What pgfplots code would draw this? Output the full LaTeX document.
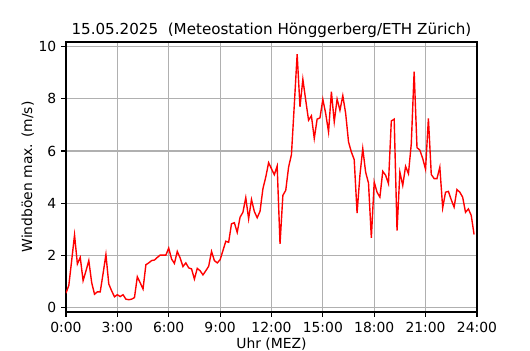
\documentclass[border=0pt]{standalone}
\usepackage{fontspec}
\setmainfont{DejaVu Sans}
\usepackage{pgfplots}
\pgfplotsset{compat=1.18}
\usepackage{pgfplotstable}
\pgfplotstableread{
i v
0 0.55
1 0.85
2 1.8
3 2.78
4 1.67
5 1.92
6 1.03
7 1.4
8 1.8
9 0.96
10 0.51
11 0.6
12 0.6
13 1.3
14 2.03
15 0.9
16 0.64
17 0.41
18 0.49
19 0.42
20 0.49
21 0.32
22 0.30
23 0.32
24 0.38
25 1.18
26 0.95
27 0.71
28 1.64
29 1.71
30 1.8
31 1.82
32 1.92
33 2.01
34 2.01
35 2.01
36 2.28
37 1.86
38 1.69
39 2.15
40 1.9
41 1.57
42 1.71
43 1.52
44 1.48
45 1.09
46 1.5
47 1.41
48 1.25
49 1.41
50 1.58
51 2.15
52 1.8
53 1.71
54 1.83
55 2.18
56 2.54
57 2.5
58 3.21
59 3.25
60 2.88
61 3.46
62 3.65
63 4.21
64 3.4
65 4.14
66 3.68
67 3.44
68 3.69
69 4.55
70 5.0
71 5.55
72 5.32
73 5.09
74 5.42
75 2.44
76 4.3
77 4.49
78 5.38
79 5.86
80 7.76
81 9.71
82 7.69
83 8.75
84 7.95
85 7.18
86 7.35
87 6.48
88 7.22
89 7.27
90 7.98
91 7.44
92 6.73
93 8.27
94 7.12
95 7.99
96 7.56
97 8.12
98 7.44
99 6.35
100 5.96
101 5.67
102 3.62
103 5.07
104 6.09
105 5.19
106 4.77
107 2.67
108 4.81
109 4.42
110 4.23
111 5.22
112 5.07
113 4.75
114 7.15
115 7.22
116 2.95
117 5.19
118 4.68
119 5.41
120 5.13
121 6.28
122 9.04
123 6.13
124 6.03
125 5.71
126 5.3
127 7.25
128 5.1
129 4.94
130 4.94
131 5.38
132 3.82
133 4.42
134 4.45
135 4.13
136 3.85
137 4.52
138 4.42
139 4.23
140 3.65
141 3.78
142 3.53
143 2.8
}\gust
\definecolor{gridgray}{RGB}{176,176,176}
\begin{document}
\begin{tikzpicture}
\useasboundingbox (-47.5pt,-27.4pt) rectangle (334.1pt,224.6pt);
\begin{axis}[
  at={(0,0)}, anchor=south west,
  scale only axis, width=295.9pt, height=194.4pt,
  xmin=0, xmax=24, ymin=-0.17, ymax=10.18,
  xtick={0,3,...,24},
  xticklabels={0:00,3:00,6:00,9:00,12:00,15:00,18:00,21:00,24:00},
  ytick={0,2,...,10},
  xtick pos=lower, ytick pos=left,
  grid=major,
  grid style={color=gridgray, line width=0.8pt},
  axis line style={line width=0.8pt},
  tick style={black, line width=0.8pt},
  tick align=outside, major tick length=3.5pt,
  /pgf/number format/assume math mode=true,
  tick label style={font=\fontsize{10}{12}\selectfont},
  label style={font=\fontsize{10}{12}\selectfont},
  xlabel={Uhr (MEZ)},
  xlabel style={yshift=3pt},
  ylabel={Windböen max. (m/s)},
  ylabel style={yshift=-3.6pt},
  title={15.05.2025\ \ (Meteostation Hönggerberg/ETH Zürich)},
  title style={font=\fontsize{10.9}{13}\selectfont, yshift=-6.5pt},
]
\addplot[red, line width=1pt, mark=none] table[x expr=\thisrow{i}/6, y=v] {\gust};
\end{axis}
\end{tikzpicture}
\end{document}
